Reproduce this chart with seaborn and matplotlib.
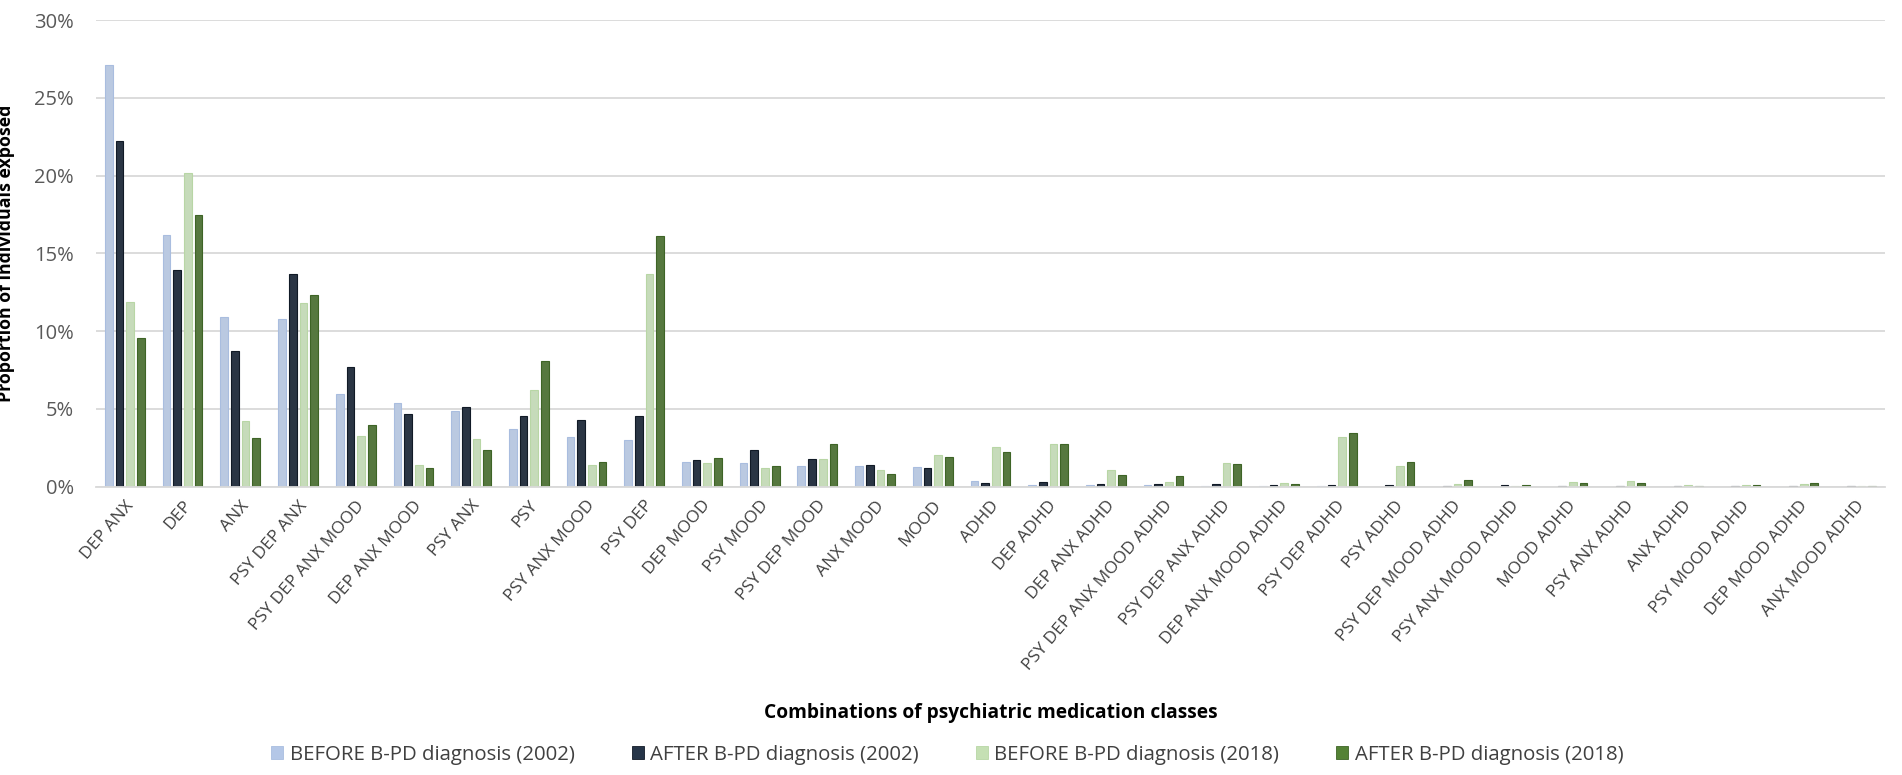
import matplotlib
matplotlib.use("Agg")
import matplotlib.pyplot as plt
import seaborn as sns
import pandas as pd
from matplotlib.ticker import FuncFormatter, MultipleLocator
from matplotlib.patches import Patch

categories = ["DEP ANX", "DEP", "ANX", "PSY DEP ANX", "PSY DEP ANX MOOD", "DEP ANX MOOD",
              "PSY ANX", "PSY", "PSY ANX MOOD", "PSY DEP", "DEP MOOD", "PSY MOOD",
              "PSY DEP MOOD", "ANX MOOD", "MOOD", "ADHD", "DEP ADHD", "DEP ANX ADHD",
              "PSY DEP ANX MOOD ADHD", "PSY DEP ANX ADHD", "DEP ANX MOOD ADHD",
              "PSY DEP ADHD", "PSY ADHD", "PSY DEP MOOD ADHD", "PSY ANX MOOD ADHD",
              "MOOD ADHD", "PSY ANX ADHD", "ANX ADHD", "PSY MOOD ADHD", "DEP MOOD ADHD",
              "ANX MOOD ADHD"]

before_2002 = [27.1, 16.2, 10.9, 10.8, 5.96, 5.36, 4.89, 3.68, 3.2, 3.03, 1.58, 1.54,
               1.33, 1.33, 1.27, 0.39, 0.1, 0.1, 0.1, 0.06, 0.06, 0.02, 0.01, 0.01,
               0.01, 0.01, 0.01, 0.01, 0.01, 0.01, 0.01]
after_2002 = [22.2, 13.95, 8.74, 13.65, 7.7, 4.66, 5.15, 4.53, 4.29, 4.57, 1.71, 2.35,
              1.76, 1.42, 1.18, 0.24, 0.3, 0.19, 0.19, 0.19, 0.09, 0.09, 0.09, 0.04,
              0.09, 0.02, 0.04, 0.04, 0.04, 0.02, 0.02]
before_2018 = [11.87, 20.2, 4.23, 11.8, 3.29, 1.39, 3.08, 6.24, 1.39, 13.65, 1.54, 1.22,
               1.8, 1.07, 2.02, 2.53, 2.75, 1.07, 0.3, 1.55, 0.24, 3.2, 1.33, 0.15,
               0.06, 0.3, 0.34, 0.13, 0.09, 0.15, 0.02]
after_2018 = [9.54, 17.5, 3.16, 12.34, 3.97, 1.18, 2.39, 8.06, 1.6, 16.1, 1.86, 1.35,
              2.75, 0.82, 1.89, 2.21, 2.75, 0.75, 0.67, 1.46, 0.19, 3.43, 1.57, 0.45,
              0.1, 0.24, 0.26, 0.02, 0.13, 0.21, 0.02]

series_names = ["BEFORE B-PD diagnosis (2002)", "AFTER B-PD diagnosis (2002)",
                "BEFORE B-PD diagnosis (2018)", "AFTER B-PD diagnosis (2018)"]
series_values = [before_2002, after_2002, before_2018, after_2018]

colors = ["#b4c7e7", "#263548", "#c5e0b4", "#548235"]
edges = ["#a9bddf", "#111a26", "#b8d6a5", "#3e6426"]

rows = []
for name, vals in zip(series_names, series_values):
    for c, v in zip(categories, vals):
        rows.append({"Combination": c, "Series": name, "Value": v})
df = pd.DataFrame(rows)

sns.set_theme(style="white")
plt.rcParams["font.family"] = ["Open Sans", "DejaVu Sans"]

fig = plt.figure(figsize=(19.02, 7.75), dpi=100)
ax = fig.add_axes([0.0505, 0.372, 0.9405, 0.602])

sns.barplot(data=df, x="Combination", y="Value", hue="Series", order=categories,
            hue_order=series_names, palette=colors, width=0.74, gap=0.28,
            linewidth=0.8, ax=ax, legend=False)

for cont, ec in zip(ax.containers, edges):
    for p in cont:
        p.set_edgecolor(ec)

ax.set_ylim(0, 30)
ax.set_xlim(-0.5, len(categories) - 0.5)
ax.yaxis.set_major_locator(MultipleLocator(5))
ax.yaxis.set_major_formatter(FuncFormatter(lambda v, p: f"{v:.0f}%"))
ax.grid(axis="y", color="#d9d9d9", linewidth=1.3)
ax.set_axisbelow(True)
for s in ["top", "right", "left"]:
    ax.spines[s].set_visible(False)
ax.spines["bottom"].set_color("#d9d9d9")
ax.spines["bottom"].set_linewidth(1.3)

ax.tick_params(axis="y", length=0, labelsize=14.5, labelcolor="#595959", pad=16)
ax.tick_params(axis="x", length=0, labelsize=12.5, labelcolor="#404040", pad=8)
plt.setp(ax.get_xticklabels(), rotation=49, ha="right", rotation_mode="anchor")

ax.set_xlabel("Combinations of psychiatric medication classes", fontsize=13.8,
              fontweight="bold", color="#000000")
ax.xaxis.set_label_coords(0.5, (0.093 - 0.372) / 0.602)
ax.set_ylabel("Proportion of individuals exposed", fontsize=12.8,
              fontweight="bold", color="#000000")
ax.yaxis.set_label_coords((0.0079 - 0.0505) / 0.9405, 0.5)

handles = [Patch(facecolor=c, edgecolor=e, linewidth=0.6) for c, e in zip(colors, edges)]
fig.legend(handles, series_names, loc="center", bbox_to_anchor=(0.498, 0.026), ncol=4,
           frameon=False, fontsize=14.7, handlelength=0.6, handleheight=0.6,
           handletextpad=0.3, columnspacing=2.8, labelcolor="#404040")

fig.savefig("out.png", dpi=100)
